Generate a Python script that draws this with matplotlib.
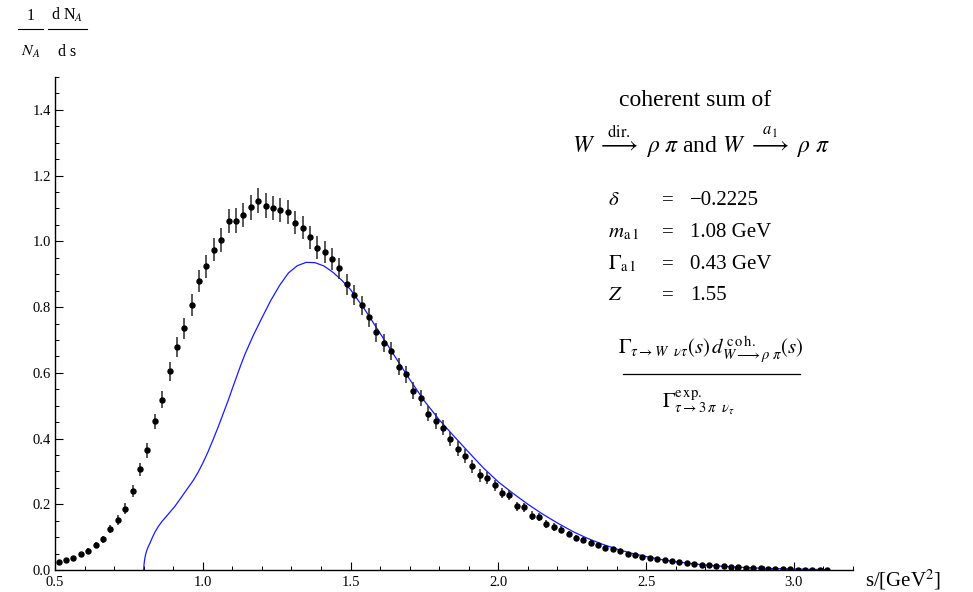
import numpy as np
import matplotlib
matplotlib.use("Agg")
import matplotlib.pyplot as plt
from matplotlib.lines import Line2D
from matplotlib.ticker import MultipleLocator, FixedLocator

plt.rcParams['font.family'] = ['Liberation Serif', 'DejaVu Serif']
plt.rcParams['mathtext.fontset'] = 'stix'

# ---------------- data ----------------
bin_start = 0.5
bin_width = 0.025
data_values = [0.023, 0.030, 0.038, 0.048, 0.059, 0.076, 0.093, 0.125, 0.152, 0.187,
               0.240, 0.306, 0.364, 0.452, 0.518, 0.604, 0.678, 0.735, 0.806, 0.880,
               0.924, 0.975, 1.005, 1.061, 1.063, 1.081, 1.103, 1.124, 1.109, 1.101,
               1.095, 1.090, 1.057, 1.042, 1.012, 0.981, 0.968, 0.946, 0.918, 0.869,
               0.837, 0.805, 0.769, 0.724, 0.690, 0.666, 0.619, 0.595, 0.545, 0.524,
               0.476, 0.453, 0.433, 0.399, 0.369, 0.346, 0.316, 0.288, 0.280, 0.258,
               0.235, 0.228, 0.194, 0.191, 0.165, 0.160, 0.140, 0.131, 0.123, 0.109,
               0.096, 0.090, 0.082, 0.075, 0.068, 0.063, 0.058, 0.050, 0.046, 0.040,
               0.036, 0.033, 0.029, 0.027, 0.023, 0.021, 0.019, 0.016, 0.014, 0.013,
               0.011, 0.009, 0.008, 0.007, 0.006, 0.005, 0.004, 0.003, 0.003, 0.002,
               0.001, 0.001, 0.001, 0.001, 0.000]
data_errors = [0.003, 0.004, 0.005, 0.006, 0.007, 0.008, 0.010, 0.012, 0.014, 0.016,
               0.018, 0.021, 0.022, 0.024, 0.026, 0.028, 0.030, 0.031, 0.033, 0.034,
               0.035, 0.036, 0.036, 0.037, 0.037, 0.037, 0.037, 0.037, 0.037, 0.037,
               0.037, 0.037, 0.036, 0.036, 0.036, 0.035, 0.034, 0.033, 0.032, 0.031,
               0.030, 0.030, 0.029, 0.029, 0.028, 0.028, 0.027, 0.027, 0.026, 0.025,
               0.024, 0.024, 0.023, 0.022, 0.022, 0.021, 0.020, 0.019, 0.018, 0.017,
               0.016, 0.015, 0.014, 0.014, 0.013, 0.012, 0.012, 0.011, 0.010, 0.010,
               0.009, 0.009, 0.008, 0.008, 0.007, 0.007, 0.006, 0.006, 0.006, 0.005,
               0.005, 0.005, 0.004, 0.004, 0.004, 0.004, 0.003, 0.003, 0.003, 0.003,
               0.003, 0.002, 0.002, 0.002, 0.002, 0.002, 0.002, 0.002, 0.002, 0.002,
               0.001, 0.001, 0.001, 0.001, 0.001]
data_s = bin_start + bin_width * (np.arange(len(data_values)) + 0.5)

curve_s = [0.800, 0.801, 0.803, 0.806, 0.810, 0.815, 0.821, 0.829, 0.838, 0.850,
           0.862, 0.872, 0.888, 0.905, 0.925, 0.950, 0.968, 0.984, 1.000, 1.018,
           1.035, 1.052, 1.070, 1.086, 1.100, 1.114, 1.128, 1.142, 1.170, 1.200,
           1.230, 1.260, 1.290, 1.320, 1.350, 1.380, 1.410, 1.440, 1.470, 1.500,
           1.550, 1.600, 1.650, 1.700, 1.750, 1.800, 1.850, 1.900, 1.950, 2.000,
           2.050, 2.100, 2.150, 2.200, 2.250, 2.300, 2.350, 2.400, 2.450, 2.500,
           2.550, 2.600, 2.650, 2.700, 2.750, 2.800, 2.850, 2.900, 2.950, 3.000,
           3.050, 3.120]
curve_v = [0.000, 0.015, 0.030, 0.045, 0.058, 0.070, 0.081, 0.098, 0.115, 0.133,
           0.148, 0.158, 0.175, 0.193, 0.218, 0.250, 0.273, 0.297, 0.325, 0.360,
           0.397, 0.435, 0.478, 0.516, 0.552, 0.587, 0.622, 0.655, 0.712, 0.767,
           0.820, 0.866, 0.904, 0.926, 0.936, 0.935, 0.925, 0.906, 0.882, 0.853,
           0.790, 0.720, 0.650, 0.580, 0.514, 0.457, 0.407, 0.358, 0.310, 0.268,
           0.233, 0.200, 0.170, 0.143, 0.118, 0.097, 0.079, 0.064, 0.051, 0.041,
           0.032, 0.025, 0.020, 0.015, 0.012, 0.009, 0.007, 0.005, 0.004, 0.003,
           0.002, 0.001]

x_ticks = [0.5, 1.0, 1.5, 2.0, 2.5, 3.0]
x_tick_labels = ['0.5', '1.0', '1.5', '2.0', '2.5', '3.0']
y_ticks = [0.0, 0.2, 0.4, 0.6, 0.8, 1.0, 1.2, 1.4]
y_tick_labels = ['0.0', '0.2', '0.4', '0.6', '0.8', '1.0', '1.2', '1.4']

# ---------------- figure ----------------
W, H = 973, 592
fig = plt.figure(figsize=(W / 100, H / 100), dpi=100)


def P(x, y):
    return x / W, 1 - y / H


ax = fig.add_axes([55 / W, 22 / H, (853 - 55) / W, (570 - 77) / H])
ax.set_xlim(0.5, 3.2)
ax.set_ylim(0.0, 1.5)
for sp in ['top', 'right']:
    ax.spines[sp].set_visible(False)
for sp in ['left', 'bottom']:
    ax.spines[sp].set_linewidth(1.0)

ax.errorbar(data_s, data_values, yerr=data_errors, fmt='o', color='black',
            ecolor='#2a2a2a', elinewidth=1.1, markersize=3.6, capsize=0, zorder=3)
ax.plot(curve_s, curve_v, color='#1a1aff', lw=0.9, zorder=2,
        solid_joinstyle='round')

ax.xaxis.set_major_locator(FixedLocator(x_ticks))
ax.set_xticklabels(x_tick_labels)
ax.xaxis.set_minor_locator(MultipleLocator(0.1))
ax.yaxis.set_major_locator(FixedLocator(y_ticks))
ax.set_yticklabels(y_tick_labels)
ax.yaxis.set_minor_locator(MultipleLocator(0.05))
ax.tick_params(which='major', direction='in', length=5.5, width=0.8,
               labelsize=10.5, pad=3)
ax.tick_params(which='minor', direction='in', length=3.2, width=0.7)
ax.tick_params(axis='x', which='major', pad=4)

# axis label
fig.text(*P(865, 580), r's/[GeV$^{2}$]', fontsize=15, ha='left', va='center')

# y label as fractions
fs_lab = 11.5
fig.text(*P(31, 20), '1', fontsize=fs_lab, ha='center', va='baseline')
fig.add_artist(Line2D([18 / W, 43 / W], [1 - 29 / H, 1 - 29 / H], color='black', lw=0.8))
fig.text(*P(31, 56), r'$N_{A}$', fontsize=fs_lab, ha='center', va='baseline')
fig.text(*P(67, 20), r'd N$_{A}$', fontsize=fs_lab, ha='center', va='baseline')
fig.add_artist(Line2D([48 / W, 87 / W], [1 - 29 / H, 1 - 29 / H], color='black', lw=0.8))
fig.text(*P(67, 56), 'd s', fontsize=fs_lab, ha='center', va='baseline')

# annotation block
fig.text(*P(695, 106), 'coherent sum of', fontsize=17, ha='center', va='baseline')
fig.text(*P(701, 153),
         r'$W\ \overset{\mathrm{dir.}}{\longrightarrow}\ \rho\ \pi$ and '
         r'$W\ \overset{a_{1}}{\longrightarrow}\ \rho\ \pi$',
         fontsize=17, ha='center', va='baseline')

fs_par = 15
rows = [(205, r'$\delta$', '\u22120.2225'),
        (237, r'$m_{\mathrm{a\,1}}$', '1.08 GeV'),
        (269, r'$\Gamma_{\mathrm{a\,1}}$', '0.43 GeV'),
        (300, r'$Z$', '1.55')]
for yb, sym, val in rows:
    fig.text(*P(608, yb), sym, fontsize=fs_par, ha='left', va='baseline')
    fig.text(*P(668, yb), '=', fontsize=fs_par, ha='center', va='baseline')
    fig.text(*P(690, yb), val, fontsize=fs_par, ha='left', va='baseline')

fig.text(*P(711, 355),
         r'$\Gamma_{\tau\to W\ \ \nu\tau}(s)\,d^{\,\mathrm{c\,o\,h.}}_{W\longrightarrow\rho\ \pi}(s)$',
         fontsize=fs_par, ha='center', va='baseline')
fig.add_artist(Line2D([623 / W, 800 / W], [1 - 374 / H, 1 - 374 / H], color='black', lw=0.9))
fig.text(*P(662, 408), r'$\Gamma^{\mathrm{e\,xp.}}_{\tau\to 3\,\pi\ \ \nu_{\tau}}$',
         fontsize=fs_par, ha='left', va='baseline')

fig.savefig('out.png', dpi=100)
